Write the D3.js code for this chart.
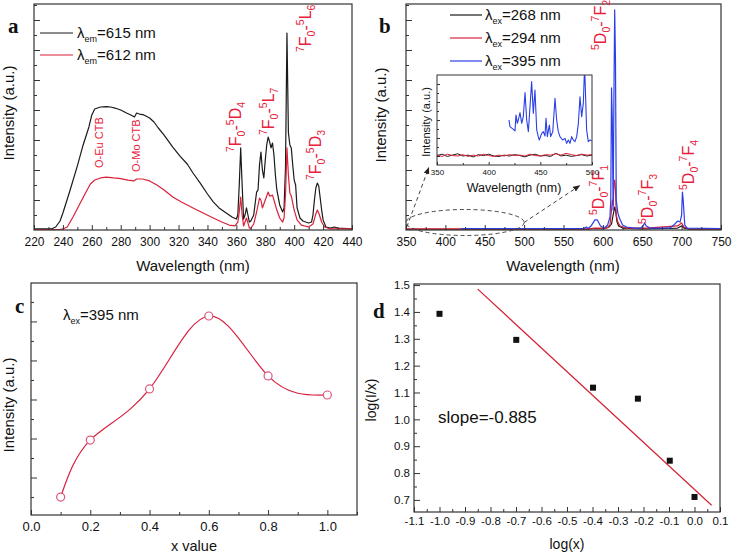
<!DOCTYPE html>
<html><head><meta charset="utf-8">
<script src="https://cdn.jsdelivr.net/npm/d3@7"></script>
<style>body{margin:0;background:#fff}svg{display:block}</style>
</head><body><svg id="c" width="733" height="555"></svg>
<script>
// ---------- DATA ----------
// Panel a: excitation spectra
const aBlackWl = [220,232,235,238,240,245,250,254,258,260,262,266,270,273,276,280,284,287,289.5,291,293,296,300,303,306,310,316,321,326,330,335,340,344,348,353,357,360,361,362,363,364,365,366,367,368,369,370,372,374,375,376,377,378,379,380,381,382,383,384,385,386,387,388,390,392,393,394,395,396,397,398,399,400,401,402,404,406,408,410,412,413,414,415,416,417,418,419,420,422,425,428,430,440];
const aBlackInt = [0.07,0.07,0.2,0.6,1.13,2.67,4.27,5.67,6.87,7.67,8.07,8.2,8.23,8.2,8.13,8.0,7.8,7.67,7.53,7.8,7.73,7.67,7.47,7.2,6.8,6.33,5.53,4.93,4.4,3.8,3.13,2.4,1.87,1.47,1.13,0.87,0.73,1.0,3.0,5.47,3.0,0.73,1.0,1.47,1.0,0.53,0.6,1.0,2.53,2.67,4.33,5.2,4.0,3.47,4.67,5.67,6.2,5.87,5.47,5.8,5.0,3.67,2.67,1.67,1.2,1.47,4.2,13.13,6.5,5.67,5.47,4.33,3.33,3.0,1.47,0.8,0.6,0.53,0.47,0.53,1.0,2.0,2.8,3.13,2.93,2.13,1.33,0.67,0.2,0.13,0.2,0.13,0.07];
const aRedWl = [220,238,240,243,247,252,256,259,262,266,270,275,280,285,289,291,295,300,305,310,316,322,330,337,344,350,355,359,361,362,363,364,365,366,367,368,369,370,372,374,376,377,378,380,382,383,384,385,386,388,390,392,393,394,395,396,397,398,400,402,405,410,413,415,416,417,419,421,425,440];
const aRedInt = [0.03,0.03,0.07,0.2,0.87,1.8,2.53,3.07,3.33,3.47,3.53,3.47,3.43,3.33,3.27,3.4,3.4,3.27,3.0,2.67,2.2,1.87,1.47,1.13,0.8,0.53,0.33,0.27,0.53,1.2,2.2,1.0,0.27,0.53,0.8,0.47,0.13,0.13,0.4,1.2,2.13,2.0,1.47,2.0,2.53,2.27,2.27,2.33,2.0,1.33,0.8,0.53,0.8,2.33,5.47,3.67,2.47,2.27,1.33,0.67,0.33,0.2,0.4,1.07,1.33,1.13,0.53,0.2,0.07,0.07];
const aXTicks = [220,240,260,280,300,320,340,360,380,400,420,440];
const aXMinor = [230,250,270,290,310,330,350,370,390,410,430];
const aLegend = ["=615 nm","=612 nm"];

// Panel b: emission spectra
const bBlackWl = [350,580,590,600,608,611,613,615,616,618,620,625,650,695,700,703,710,750];
const bBlackInt = [0.05,0.05,0.1,0.07,0.2,0.4,1.0,1.53,1.33,0.53,0.27,0.13,0.07,0.13,0.27,0.13,0.05,0.05];
const bRedWl = [350,580,590,595,605,609,611,612,613,614,615,616,617,619,622,630,650,655,695,700,703,710,750];
const bRedInt = [0.07,0.07,0.13,0.13,0.13,0.33,1.33,2.0,1.67,3.0,3.33,2.67,1.0,0.53,0.27,0.13,0.13,0.13,0.27,0.47,0.2,0.07,0.07];
const bBlueWl = [420,575,579,581,585,590,593,597,602,606,609,610,611,612,613,614,615,616,617,619,621,625,630,640,648,651,653,655,660,685,690,695,698,700,701,702,704,707,750];
const bBlueInt = [0.1,0.1,0.2,0.1,0.27,0.67,0.67,0.27,0.13,0.33,0.87,2.0,9.47,7.33,1.33,8.67,14.67,11.33,2.0,1.13,0.8,0.33,0.2,0.13,0.13,0.27,0.47,0.27,0.13,0.13,0.33,0.6,0.53,1.0,2.53,2.0,0.33,0.13,0.1];
const bXTicks = [350,400,450,500,550,600,650,700,750];
const bXMinor = [375,425,475,525,575,625,675,725];
const bLegend = ["=268 nm","=294 nm","=395 nm"];
// inset (350-500 nm)
const inWl = [350,355,360,365,370,375,380,385,390,395,400,405,410,415,420,425,430,435,440,445,450,455,460,465,470,475,480,485,490,495,500];
const inBlack = [1.05,1.2,0.95,1.1,1.25,1.0,1.1,0.9,1.15,1.05,1.2,1.0,0.95,1.1,1.0,1.15,1.05,0.9,1.1,1.2,1.0,1.05,0.95,1.3,1.0,1.1,0.95,1.05,1.15,1.0,1.1];
const inRed = [1.1,0.95,1.2,1.05,1.0,1.15,0.95,1.1,1.0,1.2,1.05,0.95,1.1,1.0,1.15,1.05,1.1,1.0,1.2,1.05,1.0,1.15,1.1,1.25,1.1,1.3,1.15,1.05,1.2,1.1,1.15];
const inBlueWl = [419.7,420.6,423.9,425.5,426.4,427.7,428.7,430.3,432,433.5,435.2,436.8,438.4,440,441.6,443.2,444.8,446.5,448,449,451.3,452.9,454.5,455.5,456.8,458.7,460,462,464.2,465.8,467.4,469,471.6,473.9,475.5,477.1,478.7,480.3,481.9,483.5,485.2,486.8,488.4,490,491.6,492.6,493.2,494.8,496.4,498,499.7];
const inBlue = [5.0,4.26,3.96,3.78,5.56,4.63,5.0,5.81,4.63,5.37,8.04,5.0,3.7,6.48,9.26,5.74,8.33,3.89,3.15,2.78,3.52,3.7,3.22,5.19,3.15,4.44,3.15,3.7,7.41,5.0,3.7,3.15,2.78,2.96,2.41,2.78,2.41,3.15,2.78,2.59,3.15,4.63,7.59,5.37,6.85,10.2,9.8,3.89,2.59,2.78,2.7];
const inXTicks = [350,400,450,500];
const inXMinor = [375,425,475];

// Panel c
const cX = [0.1,0.2,0.4,0.6,0.8,1.0];
const cY = [1.0,3.92,6.54,10.28,7.21,6.23];
const cXTicks = [0.0,0.2,0.4,0.6,0.8,1.0];
const cXMinor = [0.1,0.3,0.5,0.7,0.9,1.1];

// Panel d
const dX = [-1.0,-0.699,-0.398,-0.222,-0.097,0.0];
const dY = [1.393,1.296,1.118,1.077,0.846,0.711];
const dFitX = [-0.85,0.067];
const dFitY = [1.485,0.68];
const dXTicks = [-1.1,-1.0,-0.9,-0.8,-0.7,-0.6,-0.5,-0.4,-0.3,-0.2,-0.1,0.0,0.1];
const dXMinor = [-1.05,-0.95,-0.85,-0.75,-0.65,-0.55,-0.45,-0.35,-0.25,-0.15,-0.05,0.05];
const dYTicks = [0.7,0.8,0.9,1.0,1.1,1.2,1.3,1.4,1.5];
const dYMinor = [0.75,0.85,0.95,1.05,1.15,1.25,1.35,1.45];
const intMajor = [2,4,6,8,10,12,14];
const intMinor = [1,3,5,7,9,11,13,15];

// ---------- DRAWING ----------
const FONT = "'Liberation Sans', Arial, Helvetica, sans-serif";
const SERIF = "'Liberation Serif', 'Times New Roman', serif";
const RED = "#db2139", BLUE = "#2b3fe6", BLACK = "#1a1a1a", LRED = "#e8203a";
const svg = d3.select("#c");
svg.append("rect").attr("width",733).attr("height",555).attr("fill","#fff");
const defs = svg.append("defs");
let clipN = 0;
function clip(x0,y0,x1,y1){
  const id = "clip"+(clipN++);
  defs.append("clipPath").attr("id",id).append("rect").attr("x",x0).attr("y",y0).attr("width",x1-x0).attr("height",y1-y0);
  return "url(#"+id+")";
}
defs.append("marker").attr("id","arr").attr("viewBox","0 0 10 10").attr("refX",9).attr("refY",5)
  .attr("markerWidth",7).attr("markerHeight",7).attr("orient","auto")
  .append("path").attr("d","M0,1 L10,5 L0,9 Z").attr("fill","#222");

function frame(x0,y0,x1,y1,sw){
  svg.append("rect").attr("x",x0).attr("y",y0).attr("width",x1-x0).attr("height",y1-y0)
    .attr("fill","none").attr("stroke","#333").attr("stroke-width",sw||1.2);
}
function xAxis(scale,y,major,minor,fmt,fs,pad,tl,tm){
  const ax = svg.append("g").attr("transform",`translate(0,${y})`)
    .call(d3.axisBottom(scale).tickValues(major).tickSize(-(tl||5)).tickPadding(pad).tickFormat(fmt));
  ax.select(".domain").remove();
  ax.selectAll("text").attr("font-family",FONT).attr("font-size",fs).attr("fill","#111");
  ax.selectAll("line").attr("stroke","#333");
  const mn = svg.append("g").attr("transform",`translate(0,${y})`)
    .call(d3.axisBottom(scale).tickValues(minor).tickSize(-(tm||3)).tickFormat(""));
  mn.select(".domain").remove(); mn.selectAll("line").attr("stroke","#333");
}
function yAxis(scale,x,major,minor,fmt,fs,pad,tl,tm){
  const ax = svg.append("g").attr("transform",`translate(${x},0)`)
    .call(d3.axisLeft(scale).tickValues(major).tickSize(-(tl||6)).tickPadding(pad||4).tickFormat(fmt||""));
  ax.select(".domain").remove();
  ax.selectAll("text").attr("font-family",FONT).attr("font-size",fs||11).attr("fill","#111");
  ax.selectAll("line").attr("stroke","#333");
  const mn = svg.append("g").attr("transform",`translate(${x},0)`)
    .call(d3.axisLeft(scale).tickValues(minor).tickSize(-(tm||3)).tickFormat(""));
  mn.select(".domain").remove(); mn.selectAll("line").attr("stroke","#333");
}
function text(x,y,s,fs,opts){
  opts = opts||{};
  const t = svg.append("text").attr("x",x).attr("y",y).text(s)
    .attr("font-family",opts.family||FONT).attr("font-size",fs).attr("fill",opts.fill||"#111")
    .attr("text-anchor",opts.anchor||"start");
  if(opts.weight) t.attr("font-weight",opts.weight);
  return t;
}
function vtext(x,y,s,fs,opts){
  opts = opts||{};
  return svg.append("text").attr("transform",`translate(${x},${y}) rotate(-90)`).text(s)
    .attr("font-family",FONT).attr("font-size",fs).attr("fill",opts.fill||"#111")
    .attr("text-anchor",opts.anchor||"middle");
}
function rich(x,y,rot,parts,fill,big,small){
  const t = svg.append("text").attr("transform",`translate(${x},${y}) rotate(${rot})`)
    .attr("fill",fill).attr("font-family",FONT);
  let cur = 0;
  parts.forEach(([s,k])=>{
    const target = k===1 ? -big*0.42 : (k===-1 ? big*0.28 : 0);
    t.append("tspan").attr("dy",target-cur).attr("font-size",k?small:big).text(s);
    cur = target;
  });
  return t;
}
function line(g,xs,ys,sx,sy,color,w,curve){
  const pts = xs.map((v,i)=>[sx(v),sy(ys[i])]);
  g.append("path").attr("d",d3.line().curve(curve||d3.curveLinear)(pts))
    .attr("fill","none").attr("stroke",color).attr("stroke-width",w||1.2).attr("stroke-linejoin","round");
}
const fmt1 = v => v.toFixed(1);

// ===== Panel a =====
const aX = d3.scaleLinear().domain([220,440]).range([34,352]);
const aY = d3.scaleLinear().domain([0,226/15]).range([230,4]);
const ga = svg.append("g").attr("clip-path",clip(34,4,352,230));
line(ga,aBlackWl,aBlackInt,aX,aY,BLACK,1.2);
line(ga,aRedWl,aRedInt,aX,aY,RED,1.2);
frame(34,4,352,230);
xAxis(aX,230,aXTicks,aXMinor,d3.format("d"),12,7);
yAxis(aY,34,intMajor,intMinor);
text(193,271,"Wavelength (nm)",15,{anchor:"middle"});
vtext(14,113,"Intensity (a.u.)",15);
text(8,33,"a",21,{family:SERIF,weight:"bold"});
[[33,BLACK],[55,RED]].forEach(([y,c],i)=>{
  svg.append("line").attr("x1",40).attr("x2",73).attr("y1",y).attr("y2",y).attr("stroke",c).attr("stroke-width",1.2);
  const t = svg.append("text").attr("x",77).attr("y",y+5).attr("font-family",FONT).attr("fill","#111");
  t.append("tspan").attr("font-size",15).text("λ");
  t.append("tspan").attr("font-size",9).attr("dy",4).text("em");
  t.append("tspan").attr("font-size",15).attr("dy",-4).text(aLegend[i]);
});
vtext(103,168,"O-Eu CTB",11,{fill:LRED,anchor:"start"});
vtext(140,172,"O-Mo CTB",11,{fill:LRED,anchor:"start"});
const specA = [
  [241,152,[["7",1],["F",0],["0",-1],["-",0],["5",1],["D",0],["4",-1]]],
  [274,135,[["7",1],["F",0],["0",-1],["-",0],["5",1],["L",0],["7",-1]]],
  [311,52,[["7",1],["F",0],["0",-1],["-",0],["5",1],["L",0],["6",-1]]],
  [321,180,[["7",1],["F",0],["0",-1],["-",0],["5",1],["D",0],["3",-1]]]
];
specA.forEach(([x,y,p])=>rich(x,y,-90,p,LRED,16,10.5));

// ===== Panel b =====
const bX = d3.scaleLinear().domain([350,750]).range([406,721]);
const bY = d3.scaleLinear().domain([0,226/15]).range([230,4]);
const gb = svg.append("g").attr("clip-path",clip(406,4,721,230));
line(gb,bBlackWl,bBlackInt,bX,bY,BLACK,1.2);
line(gb,bRedWl,bRedInt,bX,bY,RED,1.2);
line(gb,bBlueWl,bBlueInt,bX,bY,BLUE,1.2);
frame(406,4,721,230);
xAxis(bX,230,bXTicks,bXMinor,d3.format("d"),12,7);
yAxis(bY,406,intMajor,intMinor);
text(563,271,"Wavelength (nm)",15,{anchor:"middle"});
vtext(386,115,"Intensity (a.u.)",15);
text(379,33,"b",21,{family:SERIF,weight:"bold"});
[[15,BLACK],[38,RED],[61,BLUE]].forEach(([y,c],i)=>{
  svg.append("line").attr("x1",450).attr("x2",482).attr("y1",y).attr("y2",y).attr("stroke",c).attr("stroke-width",1.2);
  const t = svg.append("text").attr("x",485).attr("y",y+5).attr("font-family",FONT).attr("fill","#111");
  t.append("tspan").attr("font-size",15).text("λ");
  t.append("tspan").attr("font-size",9).attr("dy",4).text("ex");
  t.append("tspan").attr("font-size",15).attr("dy",-4).text(bLegend[i]);
});
const specB = [
  [606,50,[["5",1],["D",0],["0",-1],["-",0],["7",1],["F",0],["2",-1]]],
  [604,215,[["5",1],["D",0],["0",-1],["-",0],["7",1],["F",0],["1",-1]]],
  [653,224,[["5",1],["D",0],["0",-1],["-",0],["7",1],["F",0],["3",-1]]],
  [694,190,[["5",1],["D",0],["0",-1],["-",0],["7",1],["F",0],["4",-1]]]
];
specB.forEach(([x,y,p])=>rich(x,y,-90,p,LRED,16,10.5));

// inset
const iX = d3.scaleLinear().domain([350,500]).range([437,592]);
const iY = d3.scaleLinear().domain([0,10]).range([165,75]);
svg.append("rect").attr("x",437).attr("y",75).attr("width",155).attr("height",90).attr("fill","#fff");
const gi = svg.append("g").attr("clip-path",clip(437,75,592,165));
line(gi,inWl,inBlack,iX,iY,BLACK,1);
line(gi,inWl,inRed,iX,iY,RED,1);
line(gi,inBlueWl,inBlue,iX,iY,BLUE,1.1);
frame(437,75,592,165,1);
xAxis(iX,165,inXTicks,inXMinor,d3.format("d"),8,4,3,2);
yAxis(iY,437,[1,3,5,7,9],[2,4,6,8],"",8,4,3,2);
text(514,192,"Wavelength (nm)",12.5,{anchor:"middle"});
vtext(430,122,"Intensity (a.u.)",11);
// ellipse + arrows
const ecx = (bX(350)+bX(500))/2, erx = (bX(500)-bX(350))/2;
svg.append("ellipse").attr("cx",ecx).attr("cy",bY(0.5)).attr("rx",erx).attr("ry",13)
  .attr("fill","none").attr("stroke","#444").attr("stroke-width",1).attr("stroke-dasharray","4,3");
svg.append("line").attr("x1",bX(351)).attr("y1",bY(0.2)).attr("x2",iX(342)).attr("y2",iY(-0.3))
  .attr("stroke","#444").attr("stroke-width",1).attr("stroke-dasharray","4,3").attr("marker-end","url(#arr)");
svg.append("line").attr("x1",bX(500)).attr("y1",bY(0.5)).attr("x2",iX(488)).attr("y2",iY(-2.3))
  .attr("stroke","#444").attr("stroke-width",1).attr("stroke-dasharray","4,3").attr("marker-end","url(#arr)");

// ===== Panel c =====
const cXs = d3.scaleLinear().domain([0,1.1]).range([31,357]);
const cYs = d3.scaleLinear().domain([0.08,11.97]).range([515,283]);
const gc = svg.append("g").attr("clip-path",clip(31,283,357,515));
line(gc,cX,cY,cXs,cYs,"#d81e3c",1.2,d3.curveNatural);
gc.selectAll("circle").data(cX).join("circle").attr("cx",d=>cXs(d)).attr("cy",(d,i)=>cYs(cY[i])).attr("r",4)
  .attr("fill","#fff").attr("stroke","#d9587c").attr("stroke-width",1.2);
frame(31,283,357,515);
xAxis(cXs,515,cXTicks,cXMinor,fmt1,13,7);
yAxis(cYs,31,[2,4,6,8,10],[1,3,5,7,9,11]);
text(194,551,"x value",14.5,{anchor:"middle"});
vtext(14,405,"Intensity (a.u.)",15);
text(15,313,"c",21,{family:SERIF,weight:"bold"});
const lc = svg.append("text").attr("x",63).attr("y",320).attr("font-family",FONT).attr("fill","#111");
lc.append("tspan").attr("font-size",15).text("λ");
lc.append("tspan").attr("font-size",9).attr("dy",4).text("ex");
lc.append("tspan").attr("font-size",15).attr("dy",-4).text("=395 nm");

// ===== Panel d =====
const dXs = d3.scaleLinear().domain([-1.1,0.1]).range([414,720]);
const dYs = d3.scaleLinear().domain([0.655,1.504]).range([512,284]);
const gd = svg.append("g").attr("clip-path",clip(414,284,720,512));
line(gd,dFitX,dFitY,dXs,dYs,"#d42030",1.2);
gd.selectAll("rect").data(dX).join("rect").attr("x",d=>dXs(d)-3).attr("y",(d,i)=>dYs(dY[i])-3)
  .attr("width",6).attr("height",6).attr("fill","#111");
frame(414,284,720,512);
xAxis(dXs,512,dXTicks,dXMinor,fmt1,11.5,5);
yAxis(dYs,414,dYTicks,dYMinor,fmt1,11.5,4);
text(567,549,"log(x)",14,{anchor:"middle"});
vtext(376,400,"log(I/x)",14);
text(373,318,"d",21,{family:SERIF,weight:"bold"});
text(438,423,"slope=-0.885",17);
</script></body></html>
